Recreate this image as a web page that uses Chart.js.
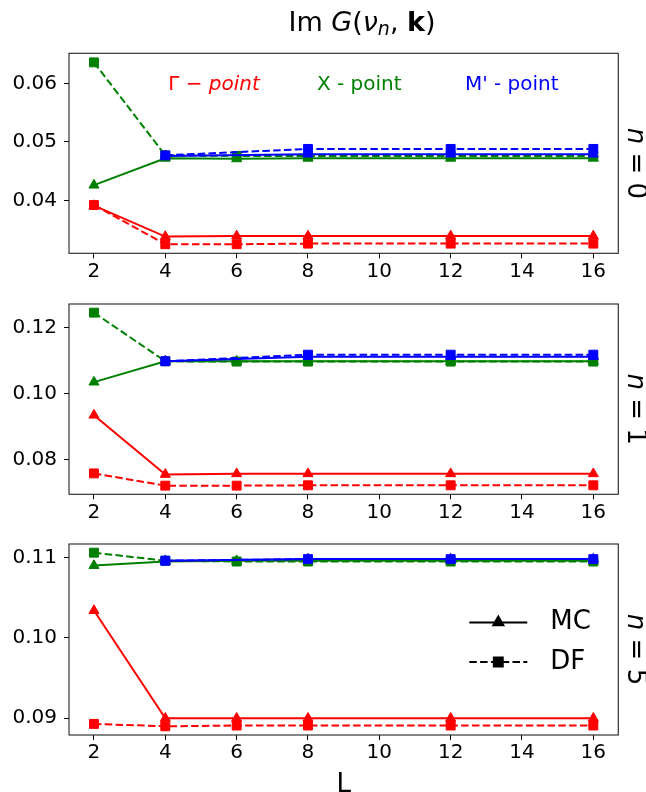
<!DOCTYPE html>
<html>
<head>
<meta charset="utf-8">
<script src="https://cdn.jsdelivr.net/npm/chart.js@4.4.1/dist/chart.umd.min.js"></script>
<style>
  body { margin: 0; background: #fff; width: 646px; height: 792px; position: relative; overflow: hidden; }
  .panel { position: absolute; left: 0; width: 646px; }
  canvas { display: block; }
</style>
</head>
<body>
<div class="panel" style="top:0px;height:285px"><canvas id="c0" width="646" height="285"></canvas></div>
<div class="panel" style="top:285px;height:240px"><canvas id="c1" width="646" height="240"></canvas></div>
<div class="panel" style="top:525px;height:267px"><canvas id="c2" width="646" height="267"></canvas></div>
<script>
// lattice sizes L
const sizes = [2, 4, 6, 8, 12, 16];
const sizesM = [4, 8, 12, 16];
const xTicks = [2, 4, 6, 8, 10, 12, 14, 16];

// n = 0
const gammaMC0 = [0.0391, 0.0338, 0.0339, 0.0339, 0.0339, 0.0339];
const gammaDF0 = [0.0392, 0.0325, 0.0325, 0.0326, 0.0326, 0.0326];
const xMC0 = [0.0426, 0.0472, 0.0471, 0.0472, 0.0472, 0.0472];
const xDF0 = [0.0636, 0.0477, 0.0476, 0.0476, 0.0476, 0.0476];
const mMC0 = [0.0476, 0.0479, 0.0479, 0.0479];
const mDF0 = [0.0477, 0.0488, 0.0488, 0.0488];
const yTicks0 = [0.04, 0.05, 0.06];

// n = 1
const gammaMC1 = [0.0935, 0.0756, 0.0758, 0.0758, 0.0758, 0.0758];
const gammaDF1 = [0.0759, 0.0722, 0.0722, 0.0723, 0.0723, 0.0723];
const xMC1 = [0.1035, 0.1098, 0.1098, 0.1098, 0.1098, 0.1098];
const xDF1 = [0.1245, 0.1098, 0.1097, 0.1097, 0.1097, 0.1097];
const mMC1 = [0.1098, 0.1112, 0.1112, 0.1112];
const mDF1 = [0.1098, 0.1118, 0.1118, 0.1118];
const yTicks1 = [0.08, 0.10, 0.12];

// n = 5
const gammaMC5 = [0.1034, 0.0900, 0.0900, 0.0900, 0.0900, 0.0900];
const gammaDF5 = [0.0893, 0.0890, 0.0891, 0.0891, 0.0891, 0.0891];
const xMC5 = [0.1090, 0.1095, 0.1096, 0.1096, 0.1096, 0.1096];
const xDF5 = [0.1106, 0.1096, 0.1095, 0.1095, 0.1095, 0.1095];
const mMC5 = [0.1096, 0.1098, 0.1098, 0.1098];
const mDF5 = [0.1096, 0.1098, 0.1098, 0.1098];
const yTicks5 = [0.09, 0.10, 0.11];

const RED = '#ff0000', GREEN = '#008000', BLUE = '#0000ff';
const FONT = '"DejaVu Sans", sans-serif';
const DASH = [7.5, 3.3];
const SQ = 6.3, TRI = 5.8;

function series(xs, ys, color, dashed) {
  return {
    data: xs.map((x, i) => ({ x: x, y: ys[i] })),
    borderColor: color,
    backgroundColor: color,
    pointBorderColor: color,
    borderWidth: 2,
    borderDash: dashed ? DASH : [],
    pointStyle: dashed ? 'rect' : 'triangle',
    pointRadius: dashed ? SQ : TRI,
    pointBorderWidth: 1,
    tension: 0,
    fill: false
  };
}

// draw a row of differently styled text pieces
function drawRuns(ctx, runs, x, y, align) {
  let total = 0;
  runs.forEach(r => { ctx.font = r.font; total += ctx.measureText(r.text).width; });
  let cx = align === 'center' ? x - total / 2 : x;
  runs.forEach(r => {
    ctx.font = r.font;
    ctx.fillText(r.text, cx, y + (r.dy || 0));
    cx += ctx.measureText(r.text).width;
  });
}

function pad(values, frac) {
  const lo = Math.min(...values), hi = Math.max(...values);
  const m = (hi - lo) * frac;
  return [lo - m, hi + m];
}

const framePlugin = {
  id: 'frame',
  afterDatasetsDraw(chart) {
    const { ctx, chartArea: a } = chart;
    ctx.save();
    ctx.strokeStyle = '#222';
    ctx.lineWidth = 1.1;
    ctx.strokeRect(a.left, a.top, a.right - a.left, a.bottom - a.top);
    ctx.restore();
  }
};

const textPlugin = {
  id: 'panelText',
  afterDraw(chart, args, opts) {
    const { ctx, chartArea: a } = chart;
    ctx.save();
    ctx.fillStyle = '#000';
    ctx.textBaseline = 'middle';
    // n label on the right, reading downwards
    ctx.translate(635, (a.top + a.bottom) / 2 + 10);
    ctx.rotate(Math.PI / 2);
    drawRuns(ctx, [
      { text: 'n', font: 'italic 26px ' + FONT },
      { text: ' = ' + opts.n, font: '26px ' + FONT }
    ], 0, 0, 'center');
    ctx.restore();

    if (opts.draw) opts.draw(chart);
  }
};

function makePanel(id, sets, yTicks, n, padTop, xHeight, draw) {
  const allY = sets.flatMap(s => s.data.map(p => p.y));
  const [yMin, yMax] = pad(allY, 0.05);
  const [xMin, xMax] = pad(sizes, 0.05);
  return new Chart(document.getElementById(id), {
    type: 'line',
    data: { datasets: sets.slice().reverse() },
    plugins: [framePlugin, textPlugin],
    options: {
      responsive: false,
      animation: false,
      events: [],
      layout: { padding: { top: padTop, right: 27.7, left: 0, bottom: 0 } },
      plugins: {
        legend: { display: false },
        tooltip: { enabled: false },
        panelText: { n: n, draw: draw }
      },
      scales: {
        x: {
          type: 'linear',
          min: xMin, max: xMax,
          border: { display: false },
          grid: { drawOnChartArea: false, drawTicks: true, tickLength: 5, color: '#000', tickWidth: 1 },
          ticks: { color: '#000', font: { family: FONT, size: 20 }, padding: 1, maxRotation: 0,
                   callback: v => String(v) },
          afterBuildTicks: s => { s.ticks = xTicks.map(v => ({ value: v })); },
          afterFit: s => { s.height = xHeight; }
        },
        y: {
          type: 'linear',
          min: yMin, max: yMax,
          border: { display: false },
          grid: { drawOnChartArea: false, drawTicks: true, tickLength: 5, color: '#000', tickWidth: 1 },
          ticks: { color: '#000', font: { family: FONT, size: 20 }, padding: 7,
                   callback: v => v.toFixed(2) },
          afterBuildTicks: s => { s.ticks = yTicks.map(v => ({ value: v })); },
          afterFit: s => { s.width = 69; }
        }
      }
    }
  });
}

// top panel: title and k-point labels
makePanel('c0', [
  series(sizes, gammaMC0, RED, false),
  series(sizes, gammaDF0, RED, true),
  series(sizes, xMC0, GREEN, false),
  series(sizes, xDF0, GREEN, true),
  series(sizesM, mMC0, BLUE, false),
  series(sizesM, mDF0, BLUE, true)
], yTicks0, 0, 53.3, 31.7, chart => {
  const ctx = chart.ctx;
  const xs = chart.scales.x, ys = chart.scales.y;
  ctx.save();
  ctx.textBaseline = 'alphabetic';
  ctx.fillStyle = '#000';
  drawRuns(ctx, [
    { text: 'Im ', font: '27px ' + FONT },
    { text: 'G', font: 'italic 27px ' + FONT },
    { text: '(', font: '27px ' + FONT },
    { text: 'ν', font: 'italic 27px ' + FONT },
    { text: 'n', font: 'italic 19px ' + FONT, dy: 4 },
    { text: ', ', font: '27px ' + FONT },
    { text: 'k', font: 'bold 27px ' + FONT },
    { text: ')', font: '27px ' + FONT }
  ], 362, 31, 'center');

  ctx.textBaseline = 'middle';
  const ly = ys.getPixelForValue(0.0597);
  ctx.fillStyle = RED;
  drawRuns(ctx, [
    { text: 'Γ − ', font: '20px ' + FONT },
    { text: 'point', font: 'italic 20px ' + FONT }
  ], xs.getPixelForValue(4.08), ly, 'left');
  ctx.fillStyle = GREEN;
  drawRuns(ctx, [{ text: 'X - point', font: '20px ' + FONT }], xs.getPixelForValue(8.25), ly, 'left');
  ctx.fillStyle = BLUE;
  drawRuns(ctx, [{ text: "M' - point", font: '20px ' + FONT }], xs.getPixelForValue(12.4), ly, 'left');
  ctx.restore();
});

makePanel('c1', [
  series(sizes, gammaMC1, RED, false),
  series(sizes, gammaDF1, RED, true),
  series(sizes, xMC1, GREEN, false),
  series(sizes, xDF1, GREEN, true),
  series(sizesM, mMC1, BLUE, false),
  series(sizesM, mDF1, BLUE, true)
], yTicks1, 1, 9, 30.7, null);

// bottom panel: legend and x label
makePanel('c2', [
  series(sizes, gammaMC5, RED, false),
  series(sizes, gammaDF5, RED, true),
  series(sizes, xMC5, GREEN, false),
  series(sizes, xDF5, GREEN, true),
  series(sizesM, mMC5, BLUE, false),
  series(sizesM, mDF5, BLUE, true)
], yTicks5, 5, 9.3, 57, chart => {
  const { ctx, chartArea: a } = chart;
  ctx.save();
  ctx.strokeStyle = '#000';
  ctx.fillStyle = '#000';
  ctx.lineWidth = 2;
  const rows = [
    { label: 'MC', y: a.top + 78.4, dash: [], mark: 'triangle' },
    { label: 'DF', y: a.top + 118, dash: DASH, mark: 'rect' }
  ];
  rows.forEach(r => {
    ctx.setLineDash(r.dash);
    ctx.beginPath();
    ctx.moveTo(a.right - 149, r.y);
    ctx.lineTo(a.right - 91, r.y);
    ctx.stroke();
    ctx.setLineDash([]);
    Chart.helpers.drawPoint(ctx, {
      pointStyle: r.mark, radius: r.mark === 'rect' ? SQ : TRI, rotation: 0, borderWidth: 1
    }, a.right - 120, r.y);
    ctx.fill();
    ctx.textBaseline = 'middle';
    ctx.font = '26px ' + FONT;
    ctx.fillText(r.label, a.right - 68, r.y);
  });

  ctx.textAlign = 'center';
  ctx.textBaseline = 'alphabetic';
  ctx.font = '26px ' + FONT;
  ctx.fillText('L', (a.left + a.right) / 2, 267);
  ctx.restore();
});
</script>
</body>
</html>
